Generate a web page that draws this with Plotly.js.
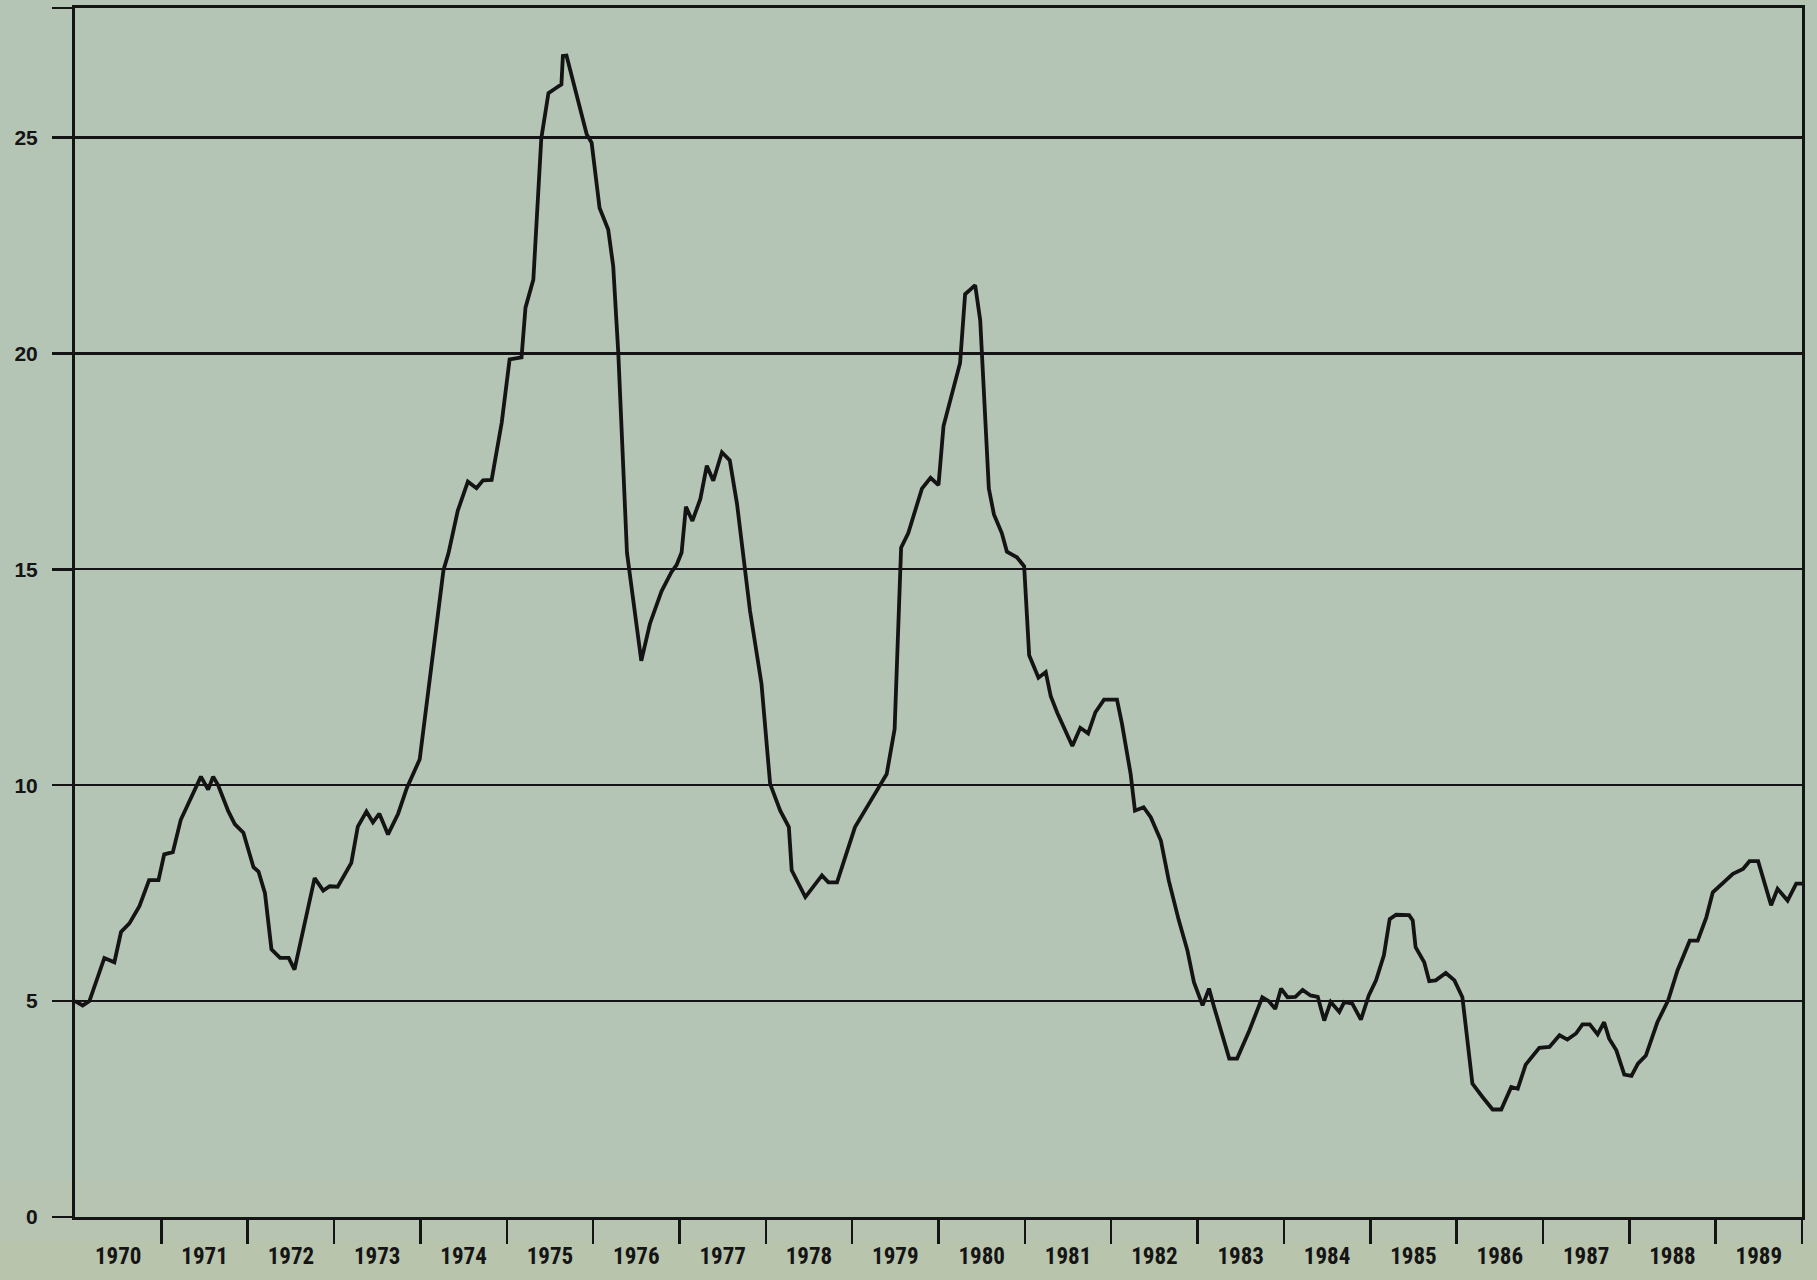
<!DOCTYPE html>
<html>
<head>
<meta charset="utf-8">
<script src="https://cdn.plot.ly/plotly-3.0.1.min.js"></script>
<style>
  html, body { margin: 0; padding: 0; background: #b3c4b4; }
  #chart { width: 1817px; height: 1280px; }
</style>
</head>
<body>
<div id="chart"></div>
<script>
// Decimal-year positions of the traced line vertices
const dates = [
  1970.000, 1970.089, 1970.167, 1970.340, 1970.456, 1970.533, 1970.630, 1970.746, 1970.858, 1970.967,
  1971.033, 1971.133, 1971.225, 1971.425, 1971.458, 1971.542, 1971.600, 1971.658, 1971.775, 1971.850, 1971.950,
  1972.067, 1972.125, 1972.200, 1972.275, 1972.375, 1972.475, 1972.542, 1972.642, 1972.775, 1972.875, 1972.950,
  1973.042, 1973.200, 1973.275, 1973.375, 1973.450, 1973.525, 1973.625, 1973.742, 1973.842, 1973.967, 1973.992,
  1974.267, 1974.325, 1974.433, 1974.550, 1974.650, 1974.725, 1974.825, 1974.883, 1974.942,
  1975.033, 1975.171, 1975.217, 1975.308, 1975.400, 1975.483, 1975.558, 1975.633, 1975.650, 1975.692, 1975.925, 1975.983,
  1976.075, 1976.175, 1976.233, 1976.292, 1976.392, 1976.558, 1976.658, 1976.792, 1976.908, 1976.967,
  1977.025, 1977.075, 1977.150, 1977.242, 1977.317, 1977.392, 1977.492, 1977.583, 1977.667, 1977.758, 1977.817, 1977.950,
  1978.050, 1978.167, 1978.267, 1978.300, 1978.458, 1978.650, 1978.725, 1978.825,
  1979.033, 1979.308, 1979.400, 1979.492, 1979.567, 1979.650, 1979.808, 1979.908,
  1980.000, 1980.058, 1980.158, 1980.250, 1980.308, 1980.425, 1980.483, 1980.583, 1980.642, 1980.733, 1980.792, 1980.908, 1980.992,
  1981.050, 1981.158, 1981.242, 1981.300, 1981.375, 1981.550, 1981.642, 1981.733, 1981.817, 1981.917,
  1982.067, 1982.125, 1982.225, 1982.275, 1982.375, 1982.458, 1982.575, 1982.667, 1982.783, 1982.883, 1982.958,
  1983.058, 1983.133, 1983.192, 1983.367, 1983.458, 1983.600, 1983.750, 1983.825, 1983.900, 1983.967,
  1984.042, 1984.133, 1984.217, 1984.308, 1984.392, 1984.467, 1984.542, 1984.642, 1984.700, 1984.792, 1984.892, 1984.983,
  1985.067, 1985.158, 1985.225, 1985.300, 1985.450, 1985.492, 1985.525, 1985.625, 1985.683, 1985.758, 1985.875, 1985.975,
  1986.067, 1986.183, 1986.300, 1986.417, 1986.517, 1986.633, 1986.708, 1986.800, 1986.958,
  1987.075, 1987.192, 1987.283, 1987.383, 1987.458, 1987.542, 1987.633, 1987.708, 1987.767, 1987.850, 1987.942,
  1988.025, 1988.100, 1988.192, 1988.325, 1988.450, 1988.558, 1988.700, 1988.792, 1988.892, 1988.967,
  1989.200, 1989.317, 1989.392, 1989.492, 1989.642, 1989.717, 1989.833, 1989.933, 1990.000
];

// Values
const rates = [
  5.0, 4.9, 5.0, 6.0, 5.9, 6.6, 6.8, 7.2, 7.8, 7.8,
  8.4, 8.45, 9.2, 10.1, 10.2, 9.9, 10.2, 10.0, 9.4, 9.1, 8.9,
  8.1, 8.0, 7.5, 6.2, 6.0, 6.0, 5.73, 6.67, 7.85, 7.56, 7.66,
  7.65, 8.2, 9.04, 9.39, 9.14, 9.34, 8.86, 9.34, 9.93, 10.53, 10.6,
  14.98, 15.37, 16.36, 17.03, 16.88, 17.06, 17.07, 17.75, 18.4,
  19.86, 19.91, 21.06, 21.71, 24.98, 26.03, 26.13, 26.23, 26.89, 26.9, 25.08, 24.88,
  23.37, 22.87, 22.02, 20.0, 15.39, 12.88, 13.74, 14.49, 14.94, 15.1,
  15.39, 16.45, 16.12, 16.63, 17.4, 17.05, 17.71, 17.52, 16.51, 15.0, 14.04, 12.35,
  10.03, 9.41, 9.03, 8.03, 7.41, 7.91, 7.75, 7.75,
  9.03, 9.95, 10.26, 11.3, 15.5, 15.84, 16.87, 17.12,
  16.95, 18.32, 19.09, 19.78, 21.37, 21.58, 20.77, 16.87, 16.27, 15.84, 15.41, 15.28, 15.07,
  13.01, 12.49, 12.62, 12.06, 11.68, 10.91, 11.33, 11.2, 11.69, 11.98,
  11.98, 11.42, 10.26, 9.41, 9.49, 9.26, 8.72, 7.79, 6.87, 6.17, 5.44,
  4.9, 5.29, 4.86, 3.67, 3.67, 4.32, 5.09, 5.0, 4.82, 5.29,
  5.09, 5.1, 5.26, 5.13, 5.1, 4.55, 4.98, 4.75, 4.98, 4.94, 4.57, 5.13,
  5.48, 6.06, 6.9, 7.0, 6.99, 6.87, 6.25, 5.9, 5.46, 5.48, 5.65, 5.48,
  5.09, 3.09, 2.78, 2.49, 2.49, 3.01, 2.97, 3.53, 3.92,
  3.94, 4.21, 4.11, 4.25, 4.46, 4.46, 4.23, 4.51, 4.13, 3.86, 3.3,
  3.27, 3.55, 3.74, 4.51, 5.02, 5.71, 6.4, 6.4, 6.94, 7.52,
  7.95, 8.06, 8.24, 8.24, 7.22, 7.6, 7.33, 7.72, 7.72
];

// Year boundary ticks and the year labels centred inside each year
const yearBounds = [1971, 1972, 1973, 1974, 1975, 1976, 1977, 1978, 1979, 1980,
                    1981, 1982, 1983, 1984, 1985, 1986, 1987, 1988, 1989, 1990];
const yearMids = [1970.5, 1971.5, 1972.5, 1973.5, 1974.5, 1975.5, 1976.5, 1977.5, 1978.5, 1979.5,
                  1980.5, 1981.5, 1982.5, 1983.5, 1984.5, 1985.5, 1986.5, 1987.5, 1988.5, 1989.5];
const yearLabels = ['1970', '1971', '1972', '1973', '1974', '1975', '1976', '1977', '1978', '1979',
                    '1980', '1981', '1982', '1983', '1984', '1985', '1986', '1987', '1988', '1989'];

const yTickVals = [0, 5, 10, 15, 20, 25, 28];
const yTickText = ['0', '5', '10', '15', '20', '25', ''];

const INK = '#141414';
const BG = '#b4c5b6';

const trace = {
  x: dates,
  y: rates,
  type: 'scatter',
  mode: 'lines',
  line: { color: INK, width: 3.8 },
  hoverinfo: 'skip',
  showlegend: false
};

const layout = {
  width: 1817,
  height: 1280,
  paper_bgcolor: BG,
  plot_bgcolor: BG,
  margin: { l: 75, r: 15, t: 8, b: 63 },
  showlegend: false,
  shapes: [
    // faint yellowish tint of the paper along the bottom edge
    { type: 'rect', xref: 'paper', yref: 'paper', x0: -0.05, x1: 1.02, y0: -0.06, y1: 0.03,
      fillcolor: 'rgba(205,200,140,0.10)', line: { width: 0 }, layer: 'below' },
    { type: 'rect', xref: 'paper', yref: 'paper', x0: -0.05, x1: 1.02, y0: -0.06, y1: -0.02,
      fillcolor: 'rgba(205,200,140,0.14)', line: { width: 0 }, layer: 'below' }
  ],
  xaxis: {
    range: [1970, 1990],
    tickmode: 'array',
    tickvals: yearBounds,
    showticklabels: false,
    ticks: 'outside',
    ticklen: 24,
    tickwidth: 2.5,
    tickcolor: INK,
    showgrid: false,
    zeroline: false,
    showline: true,
    mirror: true,
    linecolor: INK,
    linewidth: 2.6,
    fixedrange: true
  },
  xaxis2: {
    overlaying: 'x',
    anchor: 'y',
    side: 'bottom',
    range: [1970, 1990],
    tickmode: 'array',
    tickvals: yearMids,
    ticktext: yearLabels,
    ticks: '',
    ticklabelstandoff: 23,
    showgrid: false,
    zeroline: false,
    showline: false,
    tickfont: { family: '"Liberation Sans Narrow", "Arial Narrow", "Roboto Condensed", "Liberation Sans", sans-serif', size: 23, weight: 700, color: INK },
    fixedrange: true
  },
  yaxis: {
    range: [0, 28],
    tickmode: 'array',
    tickvals: yTickVals,
    ticktext: yTickText,
    ticks: 'outside',
    ticklen: 20,
    tickwidth: 2.4,
    tickcolor: INK,
    ticklabelstandoff: 10,
    showgrid: true,
    gridcolor: INK,
    gridwidth: 2.2,
    zeroline: false,
    showline: true,
    mirror: true,
    linecolor: INK,
    linewidth: 3,
    tickfont: { family: '"Liberation Sans", Arial, sans-serif', size: 21, weight: 700, color: INK },
    fixedrange: true
  }
};

const dummy = { x: [1970], y: [0], xaxis: 'x2', yaxis: 'y', type: 'scatter', mode: 'none', hoverinfo: 'skip', showlegend: false };

Plotly.newPlot('chart', [trace, dummy], layout, { staticPlot: true, displayModeBar: false });
</script>
</body>
</html>
